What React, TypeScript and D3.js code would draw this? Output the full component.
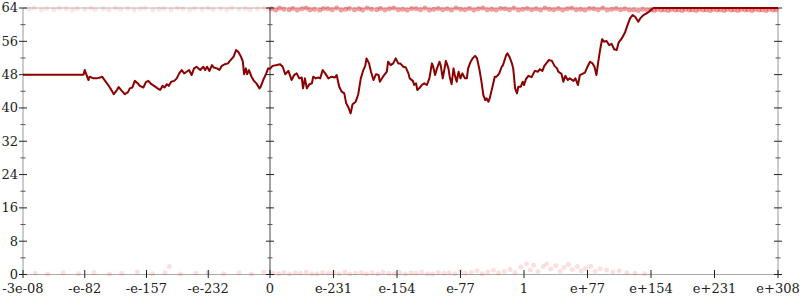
import React from "react";
import * as d3 from "d3";

const tickLabels = ["-3e-08", "-e-82", "-e-157", "-e-232", "0", "e-231", "e-154", "e-77", "1", "e+77", "e+154", "e+231", "e+308"];
const tickPositions = [-4, -3, -2, -1, 0, 1, 2, 3, 4, 5, 6, 7, 8];
const yMajor = [0, 8, 16, 24, 32, 40, 48, 56, 64];
const yMinor = [4, 12, 20, 28, 36, 44, 52, 60];

// line series (x in tick units, y value)
const lineX = [-4, -3.02, -3.0, -2.94, -2.92, -2.86, -2.81, -2.75, -2.72, -2.67, -2.62, -2.56, -2.53, -2.48, -2.45, -2.4, -2.35, -2.3, -2.27, -2.23, -2.19, -2.14, -2.11, -2.05, -2.01, -1.97, -1.92, -1.86, -1.82, -1.78, -1.74, -1.71, -1.67, -1.64, -1.6, -1.55, -1.51, -1.47, -1.43, -1.39, -1.35, -1.31, -1.27, -1.23, -1.19, -1.13, -1.08, -1.05, -1.02, -0.98, -0.94, -0.91, -0.86, -0.82, -0.78, -0.73, -0.68, -0.65, -0.59, -0.55, -0.51, -0.47, -0.44, -0.42, -0.39, -0.37, -0.34, -0.3, -0.26, -0.22, -0.17, -0.15, -0.11, -0.06, -0.03, 0,
  0.04, 0.11, 0.16, 0.2, 0.24, 0.29, 0.34, 0.38, 0.42, 0.46, 0.5, 0.52, 0.55, 0.58, 0.62, 0.66, 0.68, 0.72, 0.76, 0.79, 0.83, 0.87, 0.92, 0.97, 1.02, 1.05, 1.09, 1.13, 1.17, 1.2, 1.23, 1.27, 1.3, 1.35, 1.39, 1.43, 1.47, 1.5, 1.52, 1.56, 1.59, 1.63, 1.67, 1.71, 1.73, 1.78, 1.84, 1.86, 1.9, 1.94, 1.98, 2.02, 2.05, 2.1, 2.14, 2.18, 2.2, 2.25, 2.27, 2.3, 2.32, 2.35, 2.39, 2.43, 2.47, 2.51, 2.55, 2.57, 2.6, 2.63, 2.67, 2.69, 2.72, 2.74, 2.77, 2.81, 2.83, 2.86, 2.89, 2.91, 2.94, 2.97, 3.0, 3.03, 3.07, 3.1, 3.12, 3.16, 3.19, 3.23, 3.26, 3.3, 3.33, 3.36, 3.39, 3.41, 3.44, 3.46, 3.51, 3.54, 3.57, 3.61, 3.65, 3.67, 3.72, 3.74, 3.77, 3.81, 3.83, 3.86, 3.89, 3.91, 3.95, 3.98, 4.0, 4.03, 4.07, 4.12, 4.17, 4.22, 4.25, 4.29, 4.32, 4.36, 4.39, 4.44, 4.48, 4.52, 4.54, 4.59, 4.62, 4.65, 4.69, 4.72, 4.78, 4.81, 4.85, 4.88, 4.92, 4.96, 5.0, 5.04, 5.08, 5.11, 5.14, 5.17, 5.2, 5.23, 5.26, 5.3, 5.34, 5.38, 5.42, 5.46, 5.49, 5.54, 5.59, 5.63, 5.67, 5.71, 5.75, 5.8, 5.83, 5.88, 5.93, 5.97, 6.01, 6.04, 8];
const lineY = [48, 48, 49.1, 46.7, 47.5, 47.1, 47.1, 47.3, 47.5, 46.5, 45.5, 44.1, 43.3, 44.3, 45.0, 44.1, 43.3, 43.8, 44.7, 44.9, 46.5, 45.9, 45.3, 44.9, 46.2, 46.5, 45.7, 45.1, 44.7, 44.3, 45.3, 44.9, 45.7, 45.3, 46.3, 46.5, 47.1, 48.3, 49.1, 48.3, 48.7, 49.1, 47.9, 49.5, 49.9, 49.1, 49.9, 49.1, 49.9, 48.9, 50.3, 49.7, 49.5, 49.1, 50.1, 50.5, 50.7, 51.3, 52.3, 53.9, 53.4, 52.3, 51.1, 48.1, 49.5, 48.1, 49.1, 47.5, 46.5, 45.9, 44.7, 45.1, 46.7, 48.3, 49.5, 49.4,
  50.1, 50.3, 50.5, 49.9, 48.1, 48.9, 46.7, 47.9, 48.3, 47.1, 47.3, 44.7, 47.1, 44.7, 45.7, 45.9, 47.5, 47.1, 47.3, 47.1, 49.1, 48.3, 47.1, 47.5, 47.3, 47.9, 45.1, 43.9, 43.5, 41.1, 40.3, 38.7, 40.9, 41.5, 43.3, 47.1, 49.1, 50.1, 51.9, 50.7, 48.7, 46.7, 48.1, 47.9, 46.3, 47.5, 48.7, 51.1, 50.3, 50.7, 51.9, 50.7, 50.7, 49.9, 49.7, 48.3, 47.1, 46.5, 45.5, 45.9, 44.3, 44.7, 45.5, 45.9, 45.5, 47.1, 50.7, 49.9, 47.9, 49.5, 51.1, 50.1, 47.1, 48.7, 51.3, 49.5, 47.5, 45.7, 49.5, 47.9, 46.3, 48.7, 47.1, 48.3, 47.1, 47.1, 49.5, 51.1, 51.9, 52.5, 51.9, 49.1, 46.3, 43.1, 41.9, 42.3, 41.5, 42.3, 45.5, 47.5, 47.5, 48.3, 49.9, 50.3, 52.7, 53.1, 52.3, 50.7, 49.5, 44.7, 43.5, 45.1, 45.1, 46.3, 45.5, 46.9, 47.7, 47.4, 48.9, 48.7, 49.3, 48.9, 50.1, 50.9, 51.5, 51.3, 50.1, 49.5, 48.7, 48.2, 46.3, 47.7, 46.7, 47.1, 46.5, 47.1, 45.5, 47.9, 48.2, 48.5, 49.9, 51.1, 50.7, 49.9, 47.9, 51.1, 54.1, 56.5, 55.9, 56.1, 55.1, 55.4, 54.1, 53.9, 55.7, 56.7, 58.1, 59.9, 61.5, 62.3, 61.9, 60.7, 61.5, 62.3, 62.7, 63.1, 63.7, 64, 64];

// faint sample dots near the top (value ~64)
const topDotsLeftX = [-3.9, -3.82, -3.7, -3.62, -3.5, -3.41, -3.3, -3.2, -3.12, -3.0, -2.9, -2.83, -2.7, -2.61, -2.5, -2.42, -2.3, -2.2, -2.1, -2.02, -1.9, -1.8, -1.72, -1.6, -1.5, -1.41, -1.3, -1.22, -1.1, -1.0, -0.92, -0.8, -0.7, -0.62, -0.5, -0.4, -0.32, -0.2, -0.1, -0.03];
const topDotsLeftY = [63.7, 64, 63.5, 63.9, 63.6, 64, 63.8, 63.5, 63.9, 63.7, 64, 63.6, 63.8, 63.5, 64, 63.7, 63.9, 63.6, 63.8, 64, 63.5, 63.7, 63.9, 63.6, 64, 63.8, 63.5, 63.9, 63.7, 64, 63.6, 63.8, 63.5, 64, 63.7, 63.9, 63.6, 63.8, 64, 63.7];
const topDotsRightX = [0.02, 0.09, 0.15, 0.22, 0.3, 0.36, 0.43, 0.5, 0.57, 0.63, 0.7, 0.78, 0.84, 0.91, 0.98, 1.05, 1.12, 1.19, 1.25, 1.33, 1.4, 1.46, 1.53, 1.6, 1.68, 1.74, 1.81, 1.88, 1.95, 2.02, 2.09, 2.16, 2.23, 2.3, 2.37, 2.44, 2.51, 2.58, 2.65, 2.72, 2.79, 2.86, 2.93, 3.0, 3.07, 3.14, 3.21, 3.28, 3.35, 3.42, 3.49, 3.56, 3.63, 3.7, 3.77, 3.84, 3.91, 3.98, 4.05, 4.12, 4.19, 4.26, 4.33, 4.4, 4.47, 4.54, 4.61, 4.68, 4.75, 4.82, 4.89, 4.96, 5.03, 5.1, 5.17, 5.24, 5.31, 5.38, 5.45, 5.52, 5.59, 5.66, 5.73, 5.8, 5.87, 5.94, 6.0, 6.05, 6.1, 6.16, 6.21, 6.27, 6.32, 6.38, 6.43, 6.49, 6.54, 6.6, 6.65, 6.71, 6.76, 6.82, 6.87, 6.93, 6.98, 7.04, 7.09, 7.15, 7.2, 7.26, 7.31, 7.37, 7.42, 7.48, 7.53, 7.59, 7.64, 7.7, 7.75, 7.81, 7.86, 7.92, 7.97];
const topDotsRightY = [63.8, 63.5, 64, 63.7, 63.6, 63.9, 63.5, 63.8, 64, 63.6, 63.7, 63.5, 63.9, 63.8, 63.6, 64, 63.5, 63.7, 63.9, 63.6, 63.8, 63.5, 64, 63.7, 63.6, 63.9, 63.5, 63.8, 64, 63.6, 63.7, 63.5, 63.9, 63.8, 63.6, 64, 63.5, 63.7, 63.9, 63.6, 63.8, 63.5, 64, 63.7, 63.6, 63.9, 63.5, 63.8, 64, 63.6, 63.7, 63.5, 63.9, 63.8, 63.6, 64, 63.5, 63.7, 63.9, 63.6, 63.8, 63.5, 64, 63.7, 63.6, 63.9, 63.5, 63.8, 64, 63.6, 63.7, 63.5, 63.9, 63.8, 63.6, 64, 63.5, 63.7, 63.9, 63.6, 63.8, 63.5, 63.6, 63.4, 63.7, 63.5, 63.6, 63.4, 63.7, 63.5, 63.6, 63.4, 63.7, 63.5, 63.6, 63.4, 63.7, 63.5, 63.6, 63.4, 63.7, 63.5, 63.6, 63.4, 63.7, 63.5, 63.6, 63.4, 63.7, 63.5, 63.6, 63.4, 63.7, 63.5, 63.6, 63.4, 63.7, 63.5, 63.6, 63.4, 63.7, 63.5, 63.6];

// faint sample dots near the bottom (value ~0)
const bottomDotsX = [-3.8, -3.6, -3.35, -3.1, -2.85, -2.6, -2.4, -2.15, -1.9, -1.7, -1.63, -1.45, -1.2, -1.0, -0.75, -0.5, -0.3, -0.1, 0.05, 0.14, 0.22, 0.31, 0.4, 0.48, 0.57, 0.66, 0.74, 0.83, 0.92, 1.0, 1.09, 1.18, 1.26, 1.35, 1.44, 1.52, 1.61, 1.7, 1.78, 1.87, 1.96, 2.04, 2.13, 2.22, 2.3, 2.39, 2.48, 2.56, 2.65, 2.74, 2.82, 2.91, 3.0, 3.08, 3.17, 3.26, 3.34, 3.43, 3.52, 3.6, 3.69, 3.78, 3.86, 3.95, 4.04, 4.1, 4.15, 4.22, 4.3, 4.36, 4.42, 4.5, 4.57, 4.63, 4.7, 4.76, 4.84, 4.9, 4.97, 5.05, 5.12, 5.2, 5.3, 5.4, 5.5, 5.62, 5.75, 5.9];
const bottomDotsY = [0.3, 0.1, 0.4, 0.2, 0.5, 0.1, 0.3, 0.6, 0.2, 0.4, 1.9, 0.1, 0.3, 0.5, 0.2, 0.4, 0.1, 0.6, 0.3, 0.2, 0.5, 0.1, 0.4, 0.3, 0.6, 0.2, 0.1, 0.5, 0.3, 0.4, 0.2, 0.6, 0.1, 0.3, 0.5, 0.2, 0.4, 0.1, 0.6, 0.3, 0.2, 0.5, 0.1, 0.4, 0.3, 0.6, 0.2, 0.1, 0.5, 0.3, 0.4, 0.2, 0.8, 0.3, 0.5, 0.9, 0.2, 0.6, 1.0, 0.4, 0.7, 1.2, 0.5, 1.8, 2.6, 1.1, 2.2, 0.7, 1.9, 2.5, 1.3, 2.1, 0.8, 1.7, 2.4, 1.2, 1.9, 0.9, 1.5, 2.0, 0.8, 1.4, 1.1, 0.6, 0.9, 0.5, 0.3, 0.2];

const W = 800;
const H = 300;

export default function App() {
  const x = d3.scaleLinear().domain([-4, 0, 8]).range([23, 270, 778]);
  const y = d3.scaleLinear().domain([0, 64]).range([274.5, 8]);
  const linePts: [number, number][] = lineX.map((v, i) => [v, lineY[i]]);
  const path = d3.line<[number, number]>().x((d) => x(d[0])).y((d) => y(d[1]))(linePts) || "";
  const font = "'DejaVu Serif', serif";
  const axesX = [{ t: -4, c: "#aaa" }, { t: 0, c: "#666" }, { t: 8, c: "#aaa" }];

  return (
    <svg width={W} height={H} style={{ position: "fixed", left: 0, top: 0, background: "#fff" }}>
      {/* frame lines */}
      <line x1={x(-4)} x2={x(8)} y1={y(0)} y2={y(0)} stroke="#aaa" strokeWidth={1.2} />
      <line x1={x(-4)} x2={x(8)} y1={y(64)} y2={y(64)} stroke="#bbb" strokeWidth={1.2} />
      {axesX.map((a) => (
        <line key={"ax" + a.t} x1={x(a.t)} x2={x(a.t)} y1={y(0)} y2={y(64)} stroke={a.c} strokeWidth={1.2} />
      ))}
      {/* dots */}
      <g fill="#e80000">
        {topDotsLeftX.map((v, i) => (
          <circle key={"tl" + i} cx={x(v)} cy={y(topDotsLeftY[i])} r={2.5} opacity={0.1} />
        ))}
        {topDotsRightX.map((v, i) => (
          <circle key={"tr" + i} cx={x(v)} cy={y(topDotsRightY[i])} r={2.5} opacity={0.38} />
        ))}
        {bottomDotsX.map((v, i) => (
          <circle key={"b" + i} cx={x(v)} cy={y(bottomDotsY[i])} r={2.5} opacity={0.12} />
        ))}
      </g>
      {/* y ticks on the three vertical axes */}
      {axesX.map((a) => (
        <g key={"yt" + a.t}>
          {yMajor.map((v) => (
            <line key={"M" + v} x1={x(a.t) - 4} x2={x(a.t) + 4} y1={y(v)} y2={y(v)} stroke="#222" strokeWidth={1} />
          ))}
          {yMinor.map((v) => (
            <line key={"m" + v} x1={x(a.t) - 2.5} x2={x(a.t) + 2.5} y1={y(v)} y2={y(v)} stroke="#555" strokeWidth={1} />
          ))}
        </g>
      ))}
      {yMajor.map((v) => (
        <text key={"yl" + v} x={18} y={y(v)} dy="0.34em" textAnchor="end" fontFamily={font} fontSize={13} fill="#222">
          {v}
        </text>
      ))}
      {/* x ticks */}
      {tickPositions.map((t, i) => (
        <g key={"xt" + t}>
          <line x1={x(t)} x2={x(t)} y1={y(0) - 4.5} y2={y(0) + 3.5} stroke="#222" strokeWidth={1} />
          <text x={x(t)} y={293} textAnchor="middle" fontFamily={font} fontSize={13} fill="#222">
            {tickLabels[i]}
          </text>
        </g>
      ))}
      <path d={path} fill="none" stroke="#8b0000" strokeWidth={2} strokeLinejoin="round" />
    </svg>
  );
}
